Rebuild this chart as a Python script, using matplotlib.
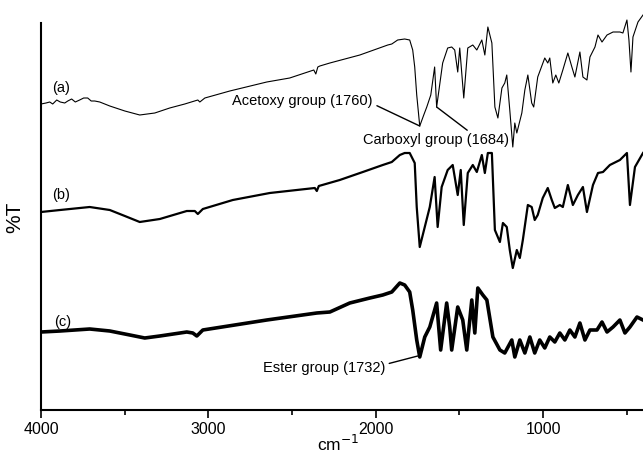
import numpy as np
import matplotlib.pyplot as plt

plt.rcParams['font.family'] = ['Liberation Sans', 'DejaVu Sans']

# wavenumber (cm-1) / offset %T, spectrum (a)
wn_a = [4000, 3970, 3948, 3930, 3906, 3885, 3858, 3840, 3817, 3795, 3769, 3745,
        3721, 3700, 3679, 3649, 3589, 3499, 3410,
        3320, 3231, 3141, 3063, 3051, 3021, 2872, 2651, 2514, 2370, 2358, 2346,
        2334, 2274, 2095, 1928, 1904, 1869, 1827, 1797, 1779, 1767, 1755, 1737,
        1713, 1695, 1671, 1648, 1636, 1618, 1600, 1570, 1546, 1528, 1510, 1498,
        1474, 1450, 1420, 1396, 1366, 1348, 1330, 1306, 1288, 1270, 1246, 1229,
        1217, 1199, 1181, 1169, 1157, 1127, 1109, 1091, 1068, 1056, 1032, 990,
        972, 960, 942, 924, 906, 882, 852, 828, 810, 780, 762, 738, 720, 690,
        672, 648, 618, 582, 541, 523, 499, 487, 475, 463, 433, 403]
t_a = [306, 307, 308, 306, 310, 308, 307, 309, 311, 308, 310, 312,
       312, 309, 309, 308, 304, 299, 295,
       297, 302, 306, 310, 308, 312, 319, 328, 332, 340, 336, 343,
       344, 347, 355, 365, 366, 370, 371, 370, 360, 343, 315, 284,
       295, 303, 315, 343, 303, 325, 347, 362, 363, 360, 338, 362,
       312, 362, 365, 360, 370, 355, 383, 367, 303, 292, 322, 327,
       335, 300, 263, 287, 277, 297, 320, 335, 307, 303, 333, 352,
       347, 352, 327, 335, 327, 340, 357, 343, 333, 358, 333, 330, 353, 363,
       375, 368, 375, 378, 378, 377, 390, 370, 338, 373, 388, 395]

# spectrum (b)
wn_b = [4000, 3886, 3709, 3589, 3499, 3410, 3290, 3129, 3081, 3063, 3033, 2854,
        2633, 2364, 2352, 2340, 2215, 2077, 1958, 1904, 1856, 1827, 1797, 1767,
        1755, 1737, 1707, 1677, 1648, 1630, 1606, 1570, 1540, 1510, 1492, 1474,
        1450, 1420, 1396, 1366, 1348, 1330, 1306, 1288, 1258, 1240, 1217, 1199,
        1181, 1157, 1139, 1121, 1091, 1068, 1050, 1032, 1002, 972, 948, 930,
        900, 882, 852, 822, 792, 762, 738, 702, 672, 642, 601, 541, 499, 481,
        451, 403]
t_b = [198, 200, 203, 200, 194, 188, 191, 199, 199, 196, 201, 210,
       217, 222, 219, 224, 230, 238, 245, 248, 255, 257, 257, 247,
       203, 163, 183, 203, 233, 183, 223, 240, 245, 215, 240, 185,
       237, 245, 238, 255, 237, 257, 257, 180, 168, 187, 183, 160,
       142, 160, 152, 170, 205, 203, 190, 195, 212, 222, 210, 202,
       205, 203, 225, 205, 215, 223, 198, 225, 237, 238, 245, 250, 257, 205,
       243, 257]

# spectrum (c)
wn_c = [4000, 3886, 3709, 3589, 3469, 3380, 3290, 3129, 3093, 3069, 3033, 2651,
        2352, 2274, 2155, 2035, 1958, 1904, 1856, 1827, 1797, 1779, 1755, 1737,
        1707, 1677, 1636, 1612, 1576, 1558, 1546, 1510, 1480, 1456, 1426, 1408,
        1390, 1360, 1336, 1300, 1258, 1229, 1187, 1169, 1139, 1109, 1079, 1050,
        1020, 990, 960, 930, 900, 870, 840, 810, 780, 750, 720, 678, 648, 618,
        582, 541, 511, 481, 439, 403]
t_c = [78, 79, 81, 79, 75, 72, 74, 78, 77, 74, 80, 90,
       97, 98, 107, 112, 115, 118, 127, 125, 118, 100, 70, 53,
       73, 83, 107, 60, 107, 83, 60, 103, 90, 60, 110, 77,
       122, 115, 110, 73, 60, 57, 70, 53, 70, 57, 73, 57,
       70, 62, 73, 68, 77, 70, 80, 73, 87, 70, 80, 80, 88, 78,
       83, 90, 77, 83, 93, 90]

curve_labels = ['(a)', '(b)', '(c)']
label_pos = [(3936, 322), (3936, 215), (3920, 88)]

fig = plt.figure(figsize=(6.43, 4.54), dpi=100)
ax = fig.add_axes([41 / 643, 44 / 454, 602 / 643, 410 / 454])

ax.plot(wn_a, t_a, color='black', lw=0.8)
ax.plot(wn_b, t_b, color='black', lw=1.6)
ax.plot(wn_c, t_c, color='black', lw=2.6)

for lab, (x, y) in zip(curve_labels, label_pos):
    ax.text(x, y, lab, fontsize=10.5, ha='left', va='center')

# peak annotations
ax.annotate('Acetoxy group (1760)', xy=(1737, 284), xytext=(2017, 309),
            ha='right', va='center', fontsize=10.5,
            arrowprops=dict(arrowstyle='-', lw=1, color='black',
                            shrinkA=1, shrinkB=0, relpos=(1, 0.3)))
ax.annotate('Carboxyl group (1684)', xy=(1636, 303), xytext=(2077, 270),
            ha='left', va='center', fontsize=10.5,
            arrowprops=dict(arrowstyle='-', lw=1, color='black',
                            shrinkA=0, shrinkB=0, relpos=(0.74, 1)))
ax.annotate('Ester group (1732)', xy=(1749, 54), xytext=(1944, 42),
            ha='right', va='center', fontsize=10.5,
            arrowprops=dict(arrowstyle='-', lw=1, color='black',
                            shrinkA=1, shrinkB=0, relpos=(1, 0.75)))

ax.set_xlim(4000, 403)
ax.set_ylim(0, 410)
ax.set_xticks([4000, 3000, 2000, 1000])
ax.set_xticks([3500, 2500, 1500, 500], minor=True)
ax.set_yticks([])
ax.tick_params(axis='x', which='major', direction='out', length=6, width=1.2,
               labelsize=11.5, pad=3)
ax.tick_params(axis='x', which='minor', direction='out', length=3.5, width=1.2)

ax.spines['top'].set_visible(False)
ax.spines['right'].set_visible(False)
ax.spines['left'].set_bounds(0, 387)
for s in ('left', 'bottom'):
    ax.spines[s].set_linewidth(1.5)

ax.set_xlabel('cm$^{-1}$', fontsize=12.5)
ax.xaxis.set_label_coords(0.494, -0.058)
ax.set_ylabel('%T', fontsize=15)
ax.yaxis.set_label_coords(-0.027, 0.47)

fig.savefig('out.png', dpi=100)
